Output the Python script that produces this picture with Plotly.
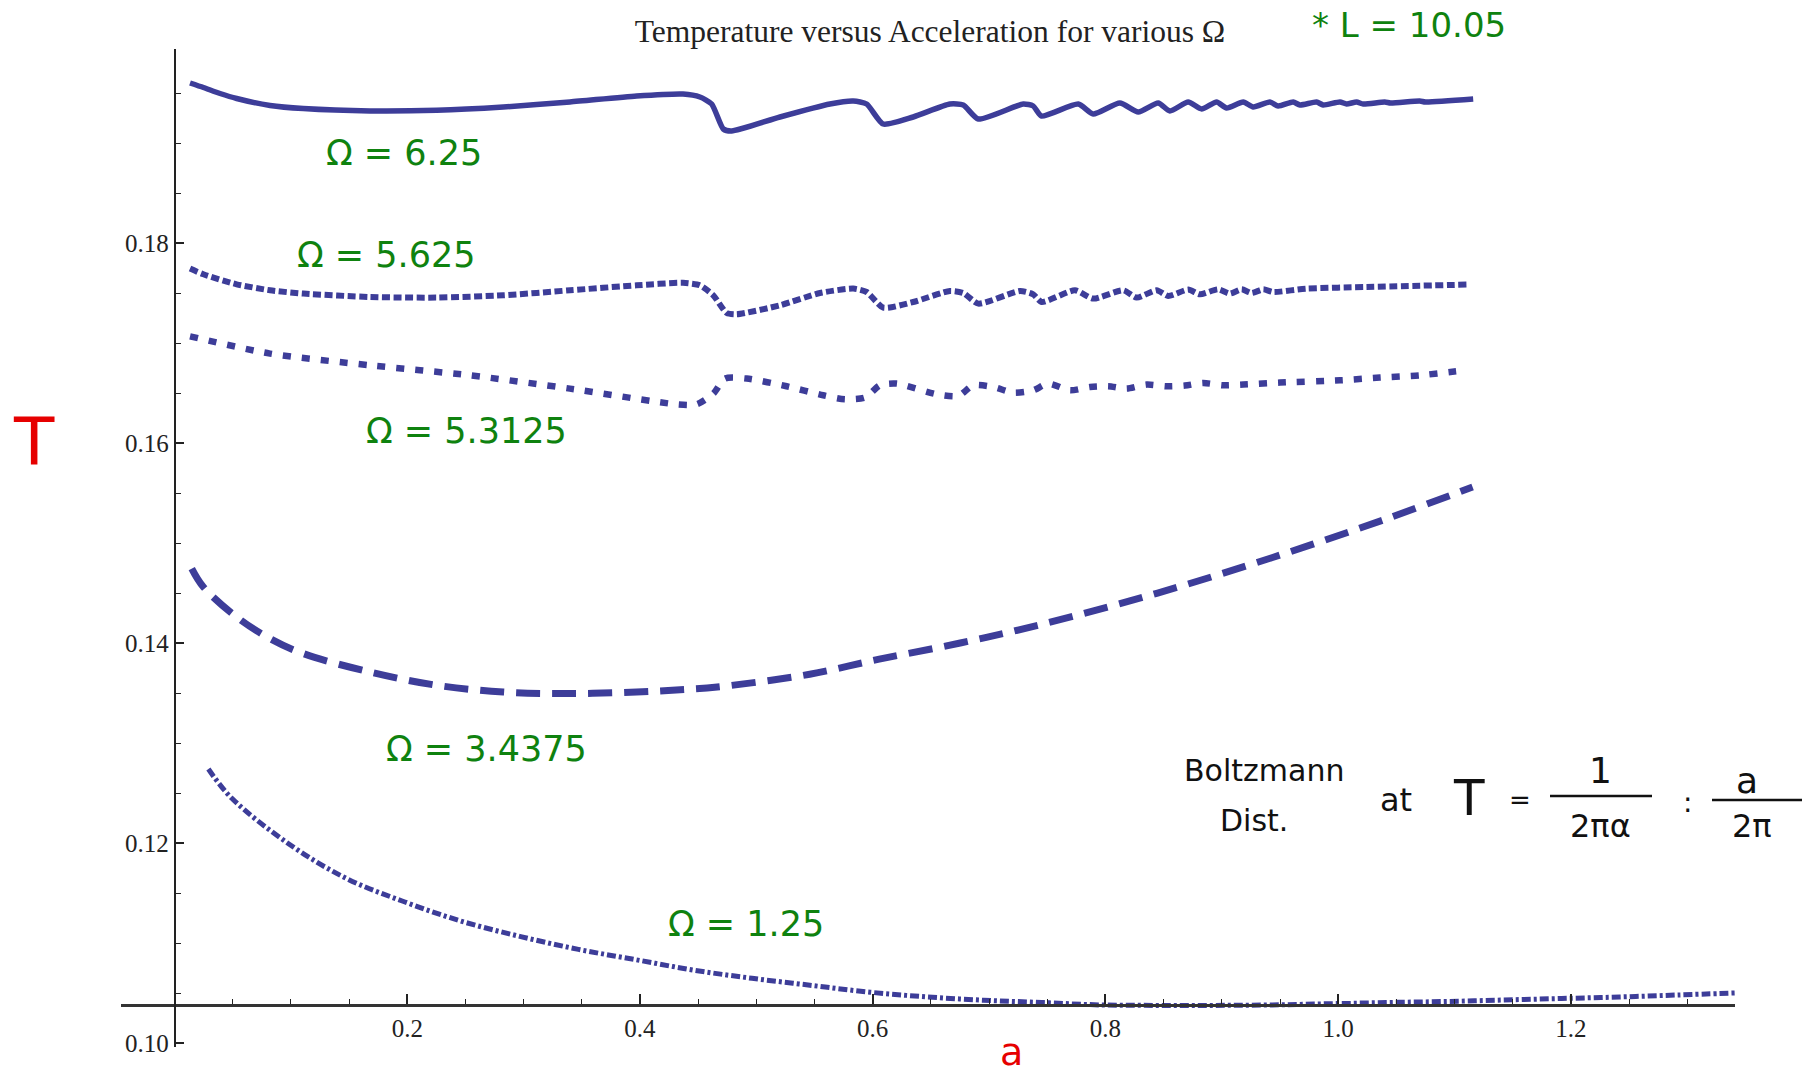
import plotly.graph_objects as go

# ---------------- data ----------------
series_names = ["Ω = 6.25", "Ω = 5.625", "Ω = 5.3125", "Ω = 3.4375", "Ω = 1.25"]

x_om625 = [0.0133, 0.0248, 0.0391, 0.0534, 0.0821, 0.1107, 0.168, 0.2253, 0.2825, 0.3398,
           0.3971, 0.437, 0.4515,
           0.4616, 0.4716, 0.4788, 0.5203, 0.5632, 0.5833, 0.5948, 0.609, 0.6348, 0.6663,
           0.6778, 0.6907, 0.7293, 0.7379, 0.7451, 0.7766, 0.7895, 0.8124, 0.8282, 0.8453,
           0.8554, 0.8711, 0.8826, 0.8955, 0.9041, 0.9184, 0.927, 0.9413, 0.9485, 0.9613,
           0.9671, 0.9814, 0.9871, 1.0015, 1.0072, 1.0158, 1.0215, 1.04, 1.045, 1.07,
           1.075, 1.116]
T_om625 = [0.1960, 0.19555, 0.19495, 0.19445, 0.19375, 0.19344, 0.1932, 0.19327, 0.1936, 0.1941,
           0.1947, 0.1949, 0.1946,
           0.1939, 0.1914, 0.1912, 0.1926, 0.1939, 0.1942, 0.1939, 0.1919, 0.1926, 0.1939,
           0.1938, 0.1924, 0.1939, 0.1937, 0.1927, 0.1939, 0.1929, 0.1940, 0.1931, 0.1940,
           0.1932, 0.1941, 0.1934, 0.1941, 0.1935, 0.1941, 0.1936, 0.1941, 0.1937, 0.1941,
           0.1938, 0.1941, 0.1938, 0.1941, 0.1939, 0.1941, 0.1939, 0.1941, 0.1940, 0.1942,
           0.1941, 0.1944]

x_om5625 = [0.0133, 0.0248, 0.0534, 0.0821, 0.1107, 0.168, 0.2253, 0.2825, 0.3398, 0.3971,
            0.437, 0.4515,
            0.463, 0.4745, 0.4831, 0.5203, 0.5547, 0.5833, 0.5948, 0.609, 0.6348, 0.6663,
            0.6778, 0.6907, 0.7265, 0.7379, 0.7451, 0.7738, 0.7895, 0.8153, 0.8268, 0.844,
            0.8539, 0.8711, 0.8812, 0.8969, 0.9069, 0.917, 0.9256, 0.9356, 0.944, 0.9729,
            1.0244, 1.1103]
T_om5625 = [0.17744, 0.17687, 0.17587, 0.17527, 0.17494, 0.1746, 0.17454, 0.17477, 0.17527, 0.17577,
            0.17602, 0.17577,
            0.17477, 0.1730, 0.17287, 0.17377, 0.175, 0.17544, 0.1751, 0.17354, 0.1741, 0.1752,
            0.175, 0.17394, 0.1752, 0.17487, 0.1741, 0.17527, 0.17444, 0.17527, 0.17454, 0.17527,
            0.1747, 0.17534, 0.17487, 0.17537, 0.17494, 0.17537, 0.175, 0.17537, 0.1751, 0.17544,
            0.1756, 0.17584]

x_om53125 = [0.0133, 0.0821, 0.168, 0.2539, 0.3398, 0.4315, 0.4487, 0.463, 0.473, 0.4917,
             0.526, 0.5575, 0.5761, 0.5933, 0.6062, 0.6206, 0.6549, 0.6735, 0.6864, 0.7036,
             0.7208, 0.7379, 0.7508, 0.7695, 0.7867, 0.8024, 0.8182, 0.8354, 0.8525, 0.8683,
             0.884, 0.9012, 0.9184, 0.9499, 1.0015, 1.0358, 1.0702, 1.109]
T_om53125 = [0.17067, 0.16894, 0.16777, 0.16677, 0.16544, 0.16387, 0.16387, 0.16494, 0.16644, 0.16644,
             0.16567, 0.16477, 0.16437, 0.16454, 0.16577, 0.16594, 0.16487, 0.1647, 0.16577, 0.1656,
             0.16504, 0.16527, 0.16594, 0.16527, 0.1656, 0.16567, 0.16544, 0.16584, 0.16567, 0.16574,
             0.1660, 0.16577, 0.16584, 0.16604, 0.16627, 0.16654, 0.16677, 0.16727]

x_om34375 = [0.0148, 0.0248, 0.0534, 0.0821, 0.1107, 0.168, 0.2253, 0.2825, 0.3398, 0.3971,
             0.4401, 0.4664, 0.5459, 0.6056, 0.6752, 0.7447, 0.8441, 0.9436, 1.043, 1.1155]
T_om34375 = [0.14744, 0.1456, 0.1426, 0.14044, 0.13894, 0.1371, 0.13577, 0.1351, 0.13494, 0.1351,
             0.13537, 0.1356, 0.13688, 0.13838, 0.1400, 0.14185, 0.14497, 0.14855, 0.15248, 0.1556]

x_om125 = [0.0291, 0.049, 0.0986, 0.1483, 0.198, 0.2477, 0.2975, 0.3471, 0.3968, 0.4465,
           0.4963, 0.546, 0.5957, 0.6454, 0.6951, 0.7449, 0.7946, 0.8441, 0.894, 0.9436,
           0.9933, 1.043, 1.0926, 1.1424, 1.192, 1.2417, 1.2914, 1.341]
T_om125 = [0.1274, 0.1245, 0.11988, 0.11642, 0.1141, 0.11214, 0.11064, 0.10936, 0.10832, 0.10728,
           0.10647, 0.10578, 0.1051, 0.10462, 0.10428, 0.10405, 0.10381, 0.10376, 0.10376, 0.10381,
           0.10393, 0.10405, 0.10415, 0.1043, 0.10445, 0.1046, 0.1048, 0.1050]

x_tick_vals = [0.2, 0.4, 0.6, 0.8, 1.0, 1.2]
y_tick_vals = [0.10, 0.12, 0.14, 0.16, 0.18]

# ---------------- style ----------------
BLUE = "#3d3d99"
GREEN = "#0f820f"
RED = "#e60000"
XMIN, XMAX = -0.046, 1.341
YMIN, YMAX = 0.0996, 0.1994
X_AXIS_AT = 0.1038

W, H = 1814, 1075
ML, MR, MT, MB = 121, 79, 49, 28
PW, PH = W - ML - MR, H - MT - MB


def paper(px, py):
    return (px - ML) / PW, (H - MB - py) / PH


fig = go.Figure()

styles = [
    (x_om625, T_om625, dict(color=BLUE, width=5.5), 0.6),
    (x_om5625, T_om5625, dict(color=BLUE, width=6, dash="8px,3.5px"), 0.6),
    (x_om53125, T_om53125, dict(color=BLUE, width=6.5, dash="8px,11px"), 0.7),
    (x_om34375, T_om34375, dict(color=BLUE, width=7, dash="24px,12px"), 1.0),
    (x_om125, T_om125, dict(color=BLUE, width=5, dash="9px,3px,3px,3px"), 1.0),
]
for (xs, ys, ln, sm), name in zip(styles, series_names):
    ln = dict(ln, shape="spline", smoothing=sm)
    fig.add_trace(go.Scatter(x=xs, y=ys, mode="lines", line=ln, name=name,
                             showlegend=False, hoverinfo="skip"))

tickfont = dict(family="Liberation Serif", size=25, color="#222")

fig.update_layout(
    width=W, height=H,
    margin=dict(l=ML, r=MR, t=MT, b=MB),
    paper_bgcolor="white", plot_bgcolor="white",
    title=dict(text="Temperature versus Acceleration for various Ω",
               font=dict(family="Liberation Serif", size=31.5, color="#222"),
               x=(930 - ML) / PW, xref="paper", xanchor="center",
               y=1 - 31 / H, yref="container", yanchor="middle"),
    xaxis=dict(range=[XMIN, XMAX], domain=[0, 1], anchor="free",
               position=(X_AXIS_AT - YMIN) / (YMAX - YMIN),
               showline=True, linecolor="#333", linewidth=2.5,
               ticks="inside", ticklen=10, tickwidth=1.5, tickcolor="#222",
               tickmode="array", tickvals=x_tick_vals, tickformat=".1f",
               tickfont=tickfont,
               minor=dict(ticks="inside", ticklen=5.5, tickwidth=1.2, tickcolor="#222",
                          tick0=0, dtick=0.05),
               showgrid=False, zeroline=False),
    yaxis=dict(range=[YMIN, YMAX], domain=[0, 1], anchor="free",
               position=(0 - XMIN) / (XMAX - XMIN),
               showline=True, linecolor="#222", linewidth=1.5,
               ticks="inside", ticklen=9, tickwidth=1.5, tickcolor="#222",
               tickmode="array", tickvals=y_tick_vals, tickformat=".2f",
               tickfont=tickfont,
               minor=dict(ticks="inside", ticklen=5.5, tickwidth=1.2, tickcolor="#222",
                          tick0=0, dtick=0.005),
               showgrid=False, zeroline=False),
)

annots = [
    ("Ω = 6.25", 404, 153, GREEN, 35),
    ("Ω = 5.625", 386, 255, GREEN, 35),
    ("Ω = 5.3125", 466, 431, GREEN, 35),
    ("Ω = 3.4375", 486, 749, GREEN, 35),
    ("Ω = 1.25", 746, 924, GREEN, 35),
    ("* L = 10.05", 1409, 25, GREEN, 34),
    ("T", 34, 442, RED, 66),
    ("a", 1011, 1052, RED, 38),
    ("Boltzmann", 1264, 770, "#111", 30),
    ("Dist.", 1254, 820, "#111", 30),
    ("at", 1396, 800, "#111", 32),
    ("T", 1469, 798, "#111", 50),
    ("=", 1520, 800, "#111", 26),
    ("1", 1600, 770, "#111", 36),
    ("2πα", 1600, 826, "#111", 32),
    (":", 1687, 802, "#111", 28),
    ("a", 1747, 780, "#111", 36),
    ("2π", 1752, 826, "#111", 32),
]
for text, px, py, col, size in annots:
    ax, ay = paper(px, py)
    fig.add_annotation(text=text, x=ax, y=ay, xref="paper", yref="paper",
                       xanchor="center", yanchor="middle", showarrow=False,
                       font=dict(family="DejaVu Sans", size=size, color=col))

for x0, x1, yy in [(1550, 1652, 796), (1712, 1802, 800)]:
    a0, b0 = paper(x0, yy)
    a1, _ = paper(x1, yy)
    fig.add_shape(type="line", xref="paper", yref="paper", x0=a0, x1=a1, y0=b0, y1=b0,
                  line=dict(color="#111", width=2.5))

fig.write_html("out.html")
